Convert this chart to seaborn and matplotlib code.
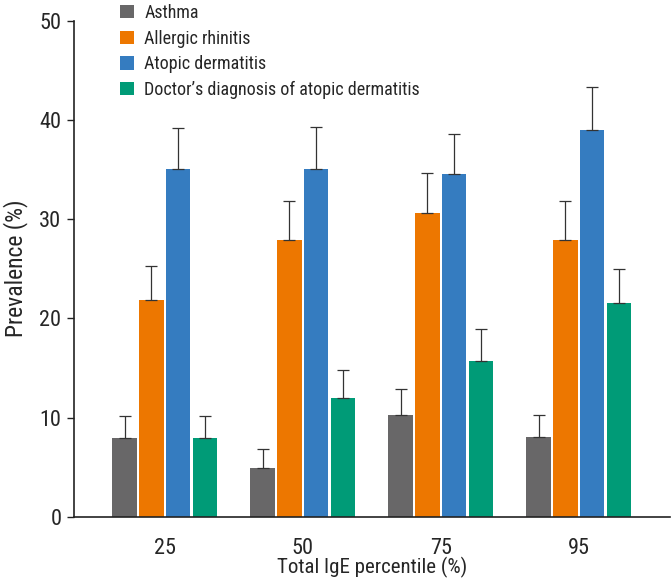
import matplotlib
matplotlib.use("Agg")
import matplotlib.pyplot as plt
import seaborn as sns
import pandas as pd
import numpy as np
from matplotlib import font_manager

percentiles = ["25", "50", "75", "95"]
conditions = ["Asthma", "Allergic rhinitis", "Atopic dermatitis",
              "Doctor\u2019s diagnosis of atopic dermatitis"]
asthma = [7.9, 4.9, 10.3, 8.0]
allergic_rhinitis = [21.8, 27.9, 30.6, 27.9]
atopic_dermatitis = [35.0, 35.0, 34.5, 39.0]
doctor_dx = [7.9, 12.0, 15.7, 21.5]
asthma_upper = [10.2, 6.8, 12.9, 10.3]
allergic_rhinitis_upper = [25.3, 31.8, 34.6, 31.8]
atopic_dermatitis_upper = [39.2, 39.3, 38.6, 43.3]
doctor_dx_upper = [10.2, 14.8, 18.9, 25.0]
yticks = [0, 10, 20, 30, 40, 50]

values = [asthma, allergic_rhinitis, atopic_dermatitis, doctor_dx]
uppers = [asthma_upper, allergic_rhinitis_upper, atopic_dermatitis_upper, doctor_dx_upper]
colors = ["#686768", "#ED7700", "#357CC0", "#009B77"]

rows = []
for c, vals in zip(conditions, values):
    for p, v in zip(percentiles, vals):
        rows.append({"Percentile": p, "Condition": c, "Prevalence": v})
df = pd.DataFrame(rows)

sns.set_style("ticks")
names = {f.name for f in font_manager.fontManager.ttflist}
fam = "DejaVu Sans"
for cand in ["Roboto Condensed", "Liberation Sans Narrow", "Open Sans Condensed"]:
    if cand in names:
        fam = cand
        break
plt.rcParams["font.family"] = [fam, "DejaVu Sans"]
plt.rcParams["font.stretch"] = "condensed"

fig = plt.figure(figsize=(6.71, 5.85), dpi=100)
ax = fig.add_axes([0.110, 0.1167, 0.8885, 0.848])

sns.barplot(data=df, x="Percentile", y="Prevalence", hue="Condition",
            order=percentiles, hue_order=conditions, palette=colors,
            width=0.78, gap=0.1, errorbar=None, saturation=1, ax=ax,
            edgecolor="none", linewidth=0)

for cont, vals, ups in zip(ax.containers, values, uppers):
    xs = [b.get_x() + b.get_width() / 2 for b in cont]
    err = np.array(ups) - np.array(vals)
    ax.errorbar(xs, vals, yerr=[np.zeros_like(err), err], fmt="none",
                ecolor="#333333", elinewidth=0.9, capsize=4, capthick=0.9, zorder=1)

ax.set_ylim(0, 50)
ax.set_xlim(-0.66, 3.66)
ax.set_yticks(yticks)
ax.set_yticklabels([str(t) for t in yticks], fontsize=16)
ax.tick_params(axis="y", length=5, width=1, color="#222222", pad=4)
ax.tick_params(axis="x", length=0, pad=15, labelsize=16)
for s in ["top", "right"]:
    ax.spines[s].set_visible(False)
for s in ["left", "bottom"]:
    ax.spines[s].set_color("#222222")
    ax.spines[s].set_linewidth(1.2)
ax.set_xlabel("Total IgE percentile (%)", fontsize=15, labelpad=-1)
ax.set_ylabel("Prevalence (%)", fontsize=17, labelpad=8)

handles, labels = ax.get_legend_handles_labels()
ax.legend(handles, labels, loc="upper left", bbox_to_anchor=(0.179, 0.993),
          bbox_transform=fig.transFigure, frameon=False, fontsize=13,
          handlelength=0.75, handleheight=0.75, handletextpad=0.6,
          labelspacing=0.42, borderaxespad=0, borderpad=0)

fig.savefig("out.png", dpi=100)
